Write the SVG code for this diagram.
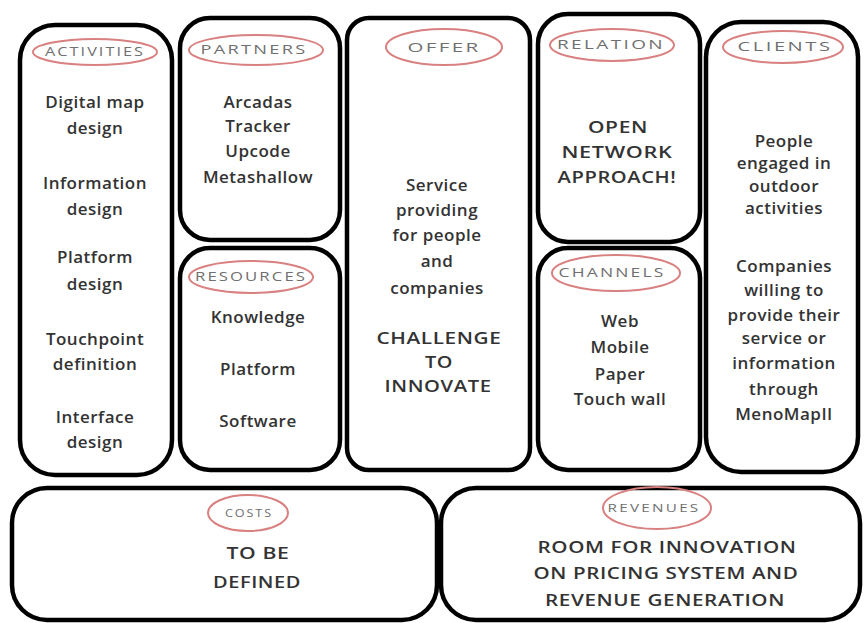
<svg xmlns="http://www.w3.org/2000/svg" width="864" height="623" viewBox="0 0 864 623">
<style>
.box{fill:#fff;stroke:#000;stroke-width:4.5;stroke-linejoin:round}
.tag{fill:none;stroke:#d98080;stroke-width:2}
.lbl{font-family:"Open Sans","Liberation Sans",sans-serif;font-size:12px;fill:#707070;text-anchor:middle;letter-spacing:1.5px}
.t{font-family:"Open Sans","Liberation Sans",sans-serif;font-size:17px;font-weight:600;fill:#333;text-anchor:middle;letter-spacing:0.5px}
.c{font-family:"Open Sans","Liberation Sans",sans-serif;font-size:17px;font-weight:600;fill:#333;text-anchor:middle;letter-spacing:0.5px}
</style>
<rect width="864" height="623" fill="#fff"/>
<g id="activities">
<rect class="box" x="20" y="25" width="152" height="450" rx="35"/>
<ellipse class="tag" cx="95" cy="52" rx="62" ry="13"/>
<text class="lbl" x="95" y="56" textLength="100" lengthAdjust="spacingAndGlyphs">ACTIVITIES</text>
<text class="t" x="95" y="108">Digital map</text>
<text class="t" x="95" y="134">design</text>
<text class="t" x="95" y="189">Information</text>
<text class="t" x="95" y="215">design</text>
<text class="t" x="95" y="263">Platform</text>
<text class="t" x="95" y="290">design</text>
<text class="t" x="95" y="345">Touchpoint</text>
<text class="t" x="95" y="370">definition</text>
<text class="t" x="95" y="423">Interface</text>
<text class="t" x="95" y="448">design</text>
</g>
<g id="partners">
<rect class="box" x="180" y="18" width="160" height="222" rx="30"/>
<ellipse class="tag" cx="256" cy="50" rx="67" ry="15"/>
<text class="lbl" x="254" y="54" textLength="107" lengthAdjust="spacingAndGlyphs">PARTNERS</text>
<text class="t" x="258" y="108">Arcadas</text>
<text class="t" x="258" y="132">Tracker</text>
<text class="t" x="258" y="157">Upcode</text>
<text class="t" x="258" y="183">Metashallow</text>
</g>
<g id="resources">
<rect class="box" x="180" y="248" width="160" height="222" rx="30"/>
<ellipse class="tag" cx="251" cy="277" rx="62" ry="16"/>
<text class="lbl" x="251" y="281" textLength="112" lengthAdjust="spacingAndGlyphs">RESOURCES</text>
<text class="t" x="258" y="323">Knowledge</text>
<text class="t" x="258" y="375">Platform</text>
<text class="t" x="258" y="427">Software</text>
</g>
<g id="offer">
<rect class="box" x="347" y="18" width="183" height="452" rx="22"/>
<ellipse class="tag" cx="444" cy="47" rx="58" ry="18"/>
<text class="lbl" x="444" y="52" style="font-size:13px" textLength="73" lengthAdjust="spacingAndGlyphs">OFFER</text>
<text class="t" x="437" y="191">Service</text>
<text class="t" x="437" y="216">providing</text>
<text class="t" x="437" y="241">for people</text>
<text class="t" x="437" y="267">and</text>
<text class="t" x="437" y="294">companies</text>
<text class="c" x="439" y="344" textLength="125" lengthAdjust="spacingAndGlyphs">CHALLENGE</text>
<text class="c" x="439" y="368" textLength="28" lengthAdjust="spacingAndGlyphs">TO</text>
<text class="c" x="438" y="392" textLength="107" lengthAdjust="spacingAndGlyphs">INNOVATE</text>
</g>
<g id="relation">
<rect class="box" x="538" y="14" width="162" height="228" rx="30"/>
<ellipse class="tag" cx="612" cy="45" rx="62" ry="16"/>
<text class="lbl" x="611" y="49" textLength="108" lengthAdjust="spacingAndGlyphs">RELATION</text>
<text class="c" x="618" y="133" textLength="60" lengthAdjust="spacingAndGlyphs">OPEN</text>
<text class="c" x="617" y="158" textLength="111" lengthAdjust="spacingAndGlyphs">NETWORK</text>
<text class="c" x="617" y="183" textLength="119" lengthAdjust="spacingAndGlyphs">APPROACH!</text>
</g>
<g id="channels">
<rect class="box" x="538" y="248" width="162" height="222" rx="30"/>
<ellipse class="tag" cx="616" cy="273" rx="64" ry="18"/>
<text class="lbl" x="612" y="277" textLength="107" lengthAdjust="spacingAndGlyphs">CHANNELS</text>
<text class="t" x="620" y="327">Web</text>
<text class="t" x="620" y="353">Mobile</text>
<text class="t" x="620" y="380">Paper</text>
<text class="t" x="620" y="405">Touch wall</text>
</g>
<g id="clients">
<rect class="box" x="706" y="22" width="152" height="450" rx="35"/>
<ellipse class="tag" cx="783" cy="47" rx="60" ry="16"/>
<text class="lbl" x="785" y="51" textLength="95" lengthAdjust="spacingAndGlyphs">CLIENTS</text>
<text class="t" x="784" y="147">People</text>
<text class="t" x="784" y="169">engaged in</text>
<text class="t" x="784" y="192">outdoor</text>
<text class="t" x="784" y="214">activities</text>
<text class="t" x="784" y="272">Companies</text>
<text class="t" x="784" y="296">willing to</text>
<text class="t" x="784" y="321">provide their</text>
<text class="t" x="784" y="344">service or</text>
<text class="t" x="784" y="369">information</text>
<text class="t" x="784" y="395">through</text>
<text class="t" x="784" y="420">MenoMapII</text>
</g>
<g id="costs">
<rect class="box" x="12" y="488" width="425" height="132" rx="35"/>
<ellipse class="tag" cx="248" cy="513" rx="40" ry="18"/>
<text class="lbl" x="249" y="517" style="font-size:10px" textLength="48" lengthAdjust="spacingAndGlyphs">COSTS</text>
<text class="c" x="258" y="559" textLength="63" lengthAdjust="spacingAndGlyphs">TO BE</text>
<text class="c" x="257" y="588" textLength="88" lengthAdjust="spacingAndGlyphs">DEFINED</text>
</g>
<g id="revenues">
<rect class="box" x="441" y="488" width="419" height="132" rx="35"/>
<ellipse class="tag" cx="657" cy="508" rx="54" ry="21"/>
<text class="lbl" x="654" y="512" style="font-size:10px" textLength="93" lengthAdjust="spacingAndGlyphs">REVENUES</text>
<text class="c" x="667" y="553" textLength="259" lengthAdjust="spacingAndGlyphs">ROOM FOR INNOVATION</text>
<text class="c" x="666" y="579" textLength="265" lengthAdjust="spacingAndGlyphs">ON PRICING SYSTEM AND</text>
<text class="c" x="665" y="606" textLength="240" lengthAdjust="spacingAndGlyphs">REVENUE GENERATION</text>
</g>
<g id="connectors"/>
</svg>
